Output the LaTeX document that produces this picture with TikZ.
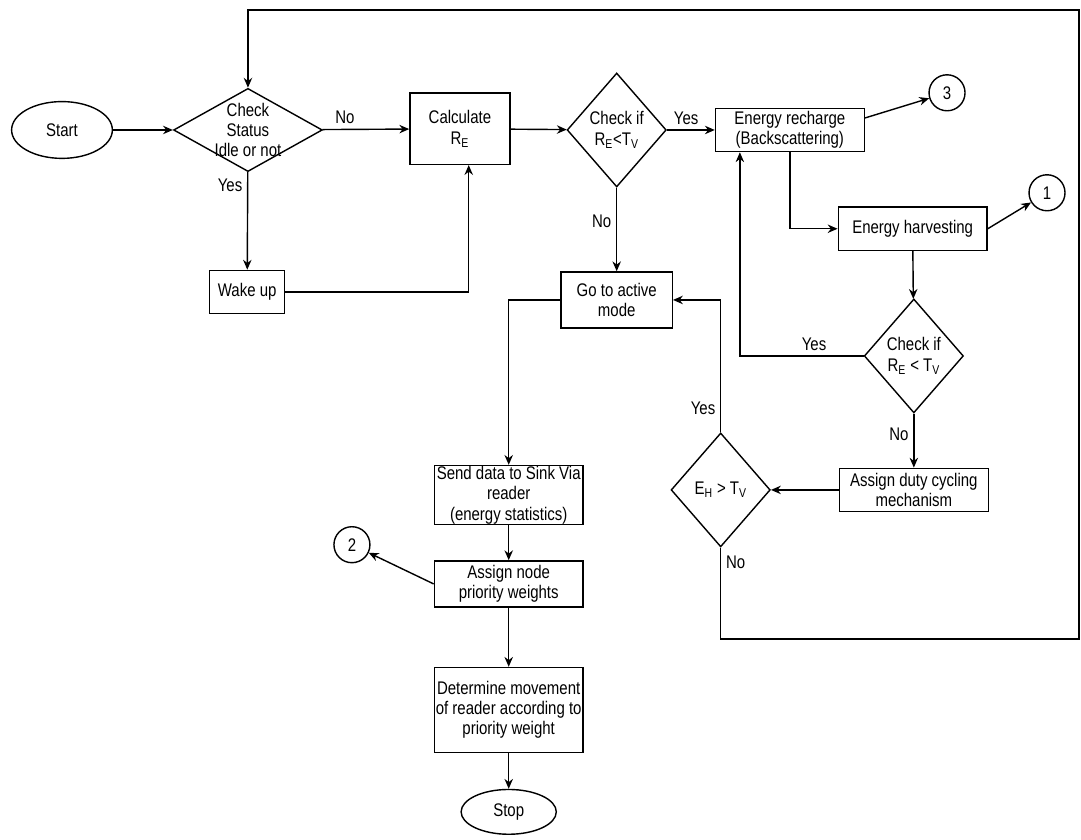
\documentclass[tikz,border=0pt]{standalone}
\usepackage{fontspec}
\setmainfont[FakeStretch=0.82]{Liberation Sans}
\usepackage{tikz}
\usetikzlibrary{shapes,arrows,arrows.meta,positioning,calc}

\begin{document}
\begin{tikzpicture}[
    every node/.style = {font=\fontsize{13}{14.5}\selectfont, align=center},
    box/.style = {draw, rectangle, minimum width=3.72cm, minimum height=1.08cm, inner sep=0.5pt},
    decision/.style = {draw, diamond, minimum width=2.48cm, minimum height=2.85cm, inner sep=0pt},
    terminal/.style = {draw, ellipse, minimum width=2.52cm, minimum height=1.42cm},
    jump/.style = {draw, circle, minimum size=0.9cm, inner sep=0pt},
    >={Stealth[length=7pt, width=6pt]}, line width=1pt
  ]
  \useasboundingbox (0,0) rectangle (27.03,-20.98);

  % 开始、状态判断
  \node[terminal] (start) at (1.55,-3.25) {Start};
  \node[decision, minimum width=3.72cm, minimum height=2.08cm,
        label=center:{Check\\Status\\Idle or not}] (chk) at (6.2,-3.25) {};
  \node[box, minimum width=1.88cm] (wake) at (6.18,-7.3) {Wake up};
  \node[box, minimum width=2.5cm, minimum height=1.78cm] (calc) at (11.5,-3.22) {Calculate\\R\textsubscript{E}};
  \node[decision, label=center:{Check if\\R\textsubscript{E}<T\textsubscript{V}}] (rchk) at (15.42,-3.25) {};

  % 充电与能量收集
  \node[box] (recharge) at (19.75,-3.25) {Energy recharge\\(Backscattering)};
  \node[jump] (c3) at (23.68,-2.32) {3};
  \node[box] (harvest) at (22.82,-5.72) {Energy harvesting};
  \node[jump] (c1) at (26.18,-4.82) {1};
  \node[decision, label=center:{Check if\\R\textsubscript{E} < T\textsubscript{V}}] (echk) at (22.85,-8.9) {};
  \node[box] (duty) at (22.85,-12.25) {Assign duty cycling\\mechanism};
  \node[decision, label=center:{E\textsubscript{H} > T\textsubscript{V}}] (eh) at (18.02,-12.25) {};

  % 活动模式
  \node[box, minimum width=2.78cm, minimum height=1.4cm] (active) at (15.42,-7.5) {Go to active\\mode};
  \node[box, minimum height=1.42cm] (send) at (12.72,-12.38) {Send data to Sink Via\\reader\\(energy statistics)};
  \node[box, minimum height=1.15cm] (assign) at (12.72,-14.6) {Assign node\\priority weights};
  \node[jump] (c2) at (8.8,-13.62) {2};
  \node[box, minimum height=2.12cm] (det) at (12.72,-17.75) {Determine movement\\of reader according to\\priority weight};
  \node[terminal, minimum width=2.38cm, minimum height=1.12cm] (stop) at (12.72,-20.3) {Stop};

  \draw[->] (start) -- (chk);
  \draw[->] (chk) -- node[pos=0.26, above] {No} (calc);
  \draw[->] (chk) -- node[pos=0.13, left] {Yes} (wake);
  \draw[->] (wake) -| ([xshift=0.22cm]calc.south);
  \draw[->] (calc) -- (rchk);
  \draw[->] (rchk) -- node[pos=0.4, above] {Yes} (recharge);
  \draw[->] (rchk) -- node[pos=0.4, left] {No} (active);
  \draw[->] ([yshift=0.3cm]recharge.east) -- (c3);
  \draw[->] (recharge) |- (harvest);
  \draw[->] (harvest.east) -- (c1);
  \draw[->] (harvest) -- (echk);
  \draw[->] (echk.west) -| node[pos=0.2, above] {Yes} ([xshift=-1.25cm]recharge.south);
  \draw[->] (echk) -- node[pos=0.38, left] {No} (duty);
  \draw[->] (duty) -- (eh);
  \draw[->] (eh.north) |- node[pos=0.09, left] {Yes} (active.east);
  \draw[->] (active.west) -| (send.north);
  \draw[->] (send) -- (assign);
  \draw[->] (assign.west) -- (c2);
  \draw[->] (assign) -- (det);
  \draw[->] (det) -- (stop);

  % 外部回路
  \coordinate (loopBR) at (26.98,-15.98);
  \coordinate (loopTR) at (26.98,-0.25);
  \draw[->] (eh.south) |- node[pos=0.08, right] {No} (loopBR) -- (loopTR) -| (chk.north);
\end{tikzpicture}
\end{document}
